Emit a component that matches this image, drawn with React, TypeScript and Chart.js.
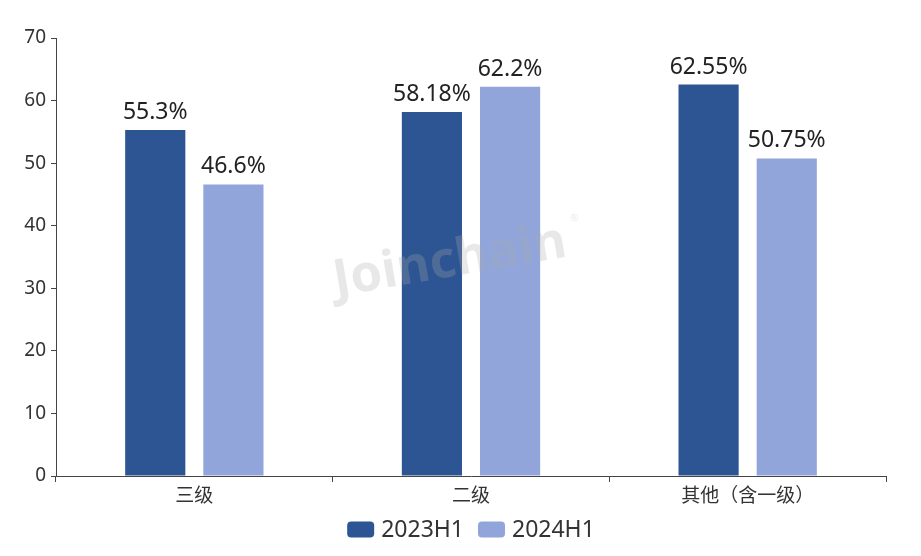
import React, { useEffect, useRef } from "react";
import { Chart, registerables } from "chart.js";

Chart.register(...registerables);

const categories = ["三级", "二级", "其他（含一级）"];
const seriesNames = ["2023H1", "2024H1"];
const values2023 = [55.3, 58.18, 62.55];
const values2024 = [46.6, 62.2, 50.75];
const yTicks = [0, 10, 20, 30, 40, 50, 60, 70];

const FONT = "'Noto Sans', 'Noto Sans CJK SC', sans-serif";

const labelPlugin = {
  id: "barLabels",
  afterDatasetsDraw(chart: any) {
    const ctx = chart.ctx;
    ctx.save();
    ctx.font = `23px ${FONT}`;
    ctx.fillStyle = "#222";
    ctx.textAlign = "center";
    ctx.textBaseline = "alphabetic";
    chart.data.datasets.forEach((ds: any, i: number) => {
      const meta = chart.getDatasetMeta(i);
      meta.data.forEach((el: any, j: number) => {
        ctx.fillText(`${ds.data[j]}%`, el.x, el.y - 11);
      });
    });
    ctx.restore();
  },
};

const watermarkPlugin = {
  id: "watermark",
  afterDatasetsDraw(chart: any) {
    const ctx = chart.ctx;
    ctx.save();
    ctx.translate(450, 262);
    ctx.rotate(-0.17);
    ctx.font = `bold 51px ${FONT}`;
    ctx.fillStyle = "rgba(170,170,170,0.27)";
    ctx.textAlign = "center";
    ctx.textBaseline = "middle";
    ctx.fillText("Joinchain", 0, 0);
    ctx.font = `10px ${FONT}`;
    ctx.fillText("®", 130, -22);
    ctx.restore();
  },
};

const legendPlugin = {
  id: "customLegend",
  afterDraw(chart: any) {
    const ctx = chart.ctx;
    const area = chart.chartArea;
    const boxW = 27;
    const boxH = 16;
    const gapText = 7;
    const gapItem = 14;
    ctx.save();
    ctx.font = `23px ${FONT}`;
    const items = chart.data.datasets.map((ds: any) => ({
      label: ds.label,
      color: ds.backgroundColor,
      w: ctx.measureText(ds.label).width,
    }));
    let total = 0;
    items.forEach((it: any, i: number) => {
      total += boxW + gapText + it.w + (i < items.length - 1 ? gapItem : 0);
    });
    let x = (area.left + area.right) / 2 - total / 2;
    const cy = 529.5;
    items.forEach((it: any) => {
      ctx.fillStyle = it.color;
      ctx.beginPath();
      ctx.roundRect(x, cy - boxH / 2, boxW, boxH, 4);
      ctx.fill();
      x += boxW + gapText;
      ctx.fillStyle = "#333";
      ctx.textAlign = "left";
      ctx.textBaseline = "middle";
      ctx.fillText(it.label, x, cy + 1);
      x += it.w + gapItem;
    });
    ctx.restore();
  },
};

export default function App() {
  const ref = useRef<HTMLCanvasElement>(null);
  useEffect(() => {
    if (!ref.current) return;
    const chart = new Chart(ref.current, {
      type: "bar",
      data: {
        labels: categories,
        datasets: [
          {
            label: seriesNames[0],
            data: values2023,
            backgroundColor: "#2E5593",
            categoryPercentage: 0.565,
            barPercentage: 0.77,
          },
          {
            label: seriesNames[1],
            data: values2024,
            backgroundColor: "#91A5DA",
            categoryPercentage: 0.565,
            barPercentage: 0.77,
          },
        ],
      },
      options: {
        responsive: false,
        animation: false,
        layout: { padding: { left: 8, right: 35, top: 38, bottom: 48 } },
        plugins: {
          tooltip: { enabled: false },
          legend: { display: false },
        },
        scales: {
          x: {
            afterFit: (s: any) => {
              s.height = 32;
            },
            grid: { display: true, drawOnChartArea: false, drawTicks: true, tickLength: 6, offset: true, color: "#444" },
            border: { display: true, color: "#444" },
            ticks: { font: { size: 19, family: FONT }, color: "#333", padding: 3 },
          },
          y: {
            min: 0,
            max: 70,
            afterBuildTicks: (s: any) => {
              s.ticks = yTicks.map((v) => ({ value: v }));
            },
            afterFit: (s: any) => {
              s.width = 48;
            },
            grid: { display: true, drawOnChartArea: false, drawTicks: true, tickLength: 5, color: "#444" },
            border: { display: true, color: "#444" },
            ticks: { font: { size: 19, family: FONT }, color: "#333", padding: 5 },
          },
        },
      },
      plugins: [watermarkPlugin, labelPlugin, legendPlugin],
    });
    return () => chart.destroy();
  }, []);
  return (
    <div style={{ position: "fixed", left: 0, top: 0, width: 921, height: 556, background: "#fff" }}>
      <canvas ref={ref} width={921} height={556} style={{ width: 921, height: 556 }} />
    </div>
  );
}
